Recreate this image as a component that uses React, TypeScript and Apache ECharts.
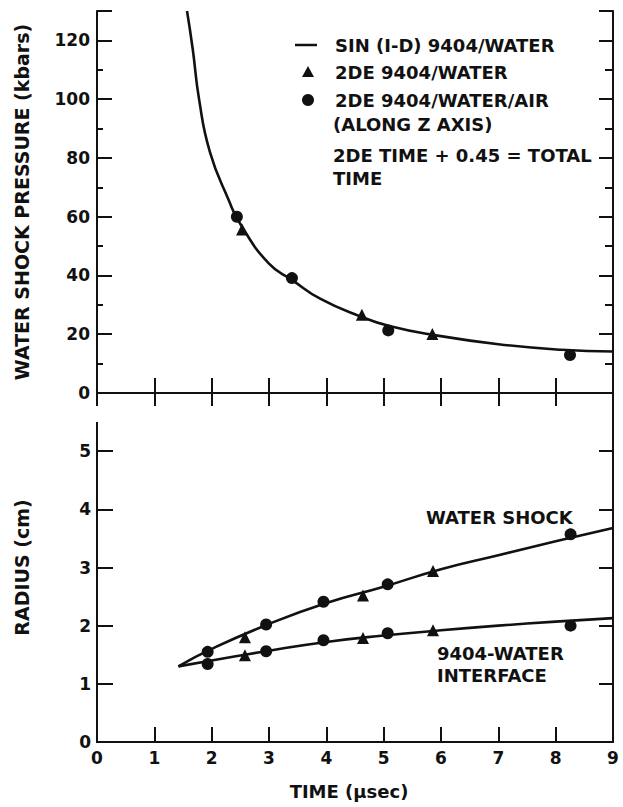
import React, { useEffect, useRef } from "react";
import * as echarts from "echarts";

// ---------- data ----------
const timeTicks = [0, 1, 2, 3, 4, 5, 6, 7, 8, 9];
const pressureTicks = [0, 20, 40, 60, 80, 100, 120];
const radiusTicks = [0, 1, 2, 3, 4, 5];

// SIN (1-D) 9404/water curve: [time, pressure kbar]
const sinPressure: [number, number][] = [
  [1.57, 130], [1.67, 117], [1.78, 100], [1.97, 82], [2.3, 65.5], [2.5, 57.5],
  [3.0, 44], [3.4, 38.5], [3.9, 32], [4.6, 26], [5.1, 22.8], [5.85, 19.8],
  [7.0, 16.6], [8.1, 14.7], [9.0, 14.1],
];
// 2DE 9404/water (triangles)
const tri2dePressure: [number, number][] = [[2.53, 55.6], [4.62, 26.6], [5.85, 20.1]];
// 2DE 9404/water/air along z axis (circles)
const circ2dePressure: [number, number][] = [[2.44, 60], [3.4, 39.1], [5.08, 21.3], [8.25, 12.9]];

// Radius curves: [time, radius cm]
const waterShockLine: [number, number][] = [
  [1.42, 1.3], [2, 1.6], [3, 2.03], [4, 2.39], [5, 2.67], [6, 2.97], [7, 3.21], [8, 3.45], [9, 3.68],
];
const interfaceLine: [number, number][] = [
  [1.42, 1.3], [2, 1.4], [3, 1.57], [4, 1.72], [5, 1.83], [6, 1.92], [7, 2.0], [8, 2.07], [9, 2.13],
];
const waterShockTri: [number, number][] = [[2.58, 1.8], [4.64, 2.52], [5.86, 2.94]];
const waterShockCirc: [number, number][] = [[1.93, 1.55], [2.95, 2.02], [3.95, 2.41], [5.07, 2.71], [8.26, 3.57]];
const interfaceTri: [number, number][] = [[2.58, 1.49], [4.64, 1.79], [5.86, 1.92]];
const interfaceCirc: [number, number][] = [[1.93, 1.34], [2.95, 1.56], [3.95, 1.75], [5.07, 1.87], [8.26, 2.0]];

const legendLabels = [
  "SIN (I-D) 9404/WATER",
  "2DE 9404/WATER",
  "2DE 9404/WATER/AIR",
  "(ALONG Z AXIS)",
  "2DE TIME + 0.45 = TOTAL",
  "TIME",
];

const FONT = "DejaVu Sans";
const INK = "#111";

export default function App() {
  const ref = useRef<HTMLDivElement>(null);

  useEffect(() => {
    if (!ref.current) return;
    const chart = echarts.init(ref.current, undefined, { renderer: "svg" });

    const axLine = { show: true, lineStyle: { color: INK, width: 2 } };
    const noLine = { show: false };
    const tick = (len: number) => ({ show: true, inside: true, length: len, lineStyle: { color: INK, width: 2 } });
    const lbl = { color: INK, fontFamily: FONT, fontWeight: "bold" as const, fontSize: 17 };

    const xBase = { type: "value" as const, min: 0, max: 9, interval: 1, splitLine: { show: false } };

    const txt = (x: number, y: number, text: string, size = 17) => ({
      type: "text",
      x,
      y,
      style: { text, fill: INK, font: `bold ${size}px "${FONT}"`, textVerticalAlign: "middle" },
      z: 100,
    });

    const symStyle = { color: INK, opacity: 1 };
    const curveStyle = { color: INK, width: 2.6 };

    chart.setOption({
      animation: false,
      backgroundColor: "#fff",
      grid: [
        { left: 97, top: 11, width: 516, height: 382 },
        { left: 97, top: 393, width: 516, height: 349 },
      ],
      xAxis: [
        { ...xBase, gridIndex: 0, position: "bottom", axisLine: axLine, axisTick: tick(15), axisLabel: { show: false } },
        { ...xBase, gridIndex: 0, position: "top", axisLine: axLine, axisTick: tick(13), axisLabel: { show: false } },
        {
          ...xBase, gridIndex: 1, position: "bottom", axisLine: axLine, axisTick: tick(15),
          axisLabel: { ...lbl, margin: 7, formatter: (v: number) => (timeTicks.includes(v) ? String(v) : "") },
          name: "TIME (\u03bcsec)", nameLocation: "middle", nameGap: 40,
          nameTextStyle: { color: INK, fontFamily: FONT, fontWeight: "bold", fontSize: 18, padding: [0, 12, 0, 0] },
        },
      ],
      yAxis: [
        {
          type: "value", gridIndex: 0, position: "left", min: 0, max: 130, interval: 20,
          splitLine: { show: false }, axisLine: axLine, axisTick: tick(15),
          axisLabel: { ...lbl, margin: 7, formatter: (v: number) => (pressureTicks.includes(v) ? String(v) : "") },
          name: "WATER SHOCK PRESSURE (kbars)", nameLocation: "middle", nameGap: 66,
          nameTextStyle: { color: INK, fontFamily: FONT, fontWeight: "bold", fontSize: 19 },
        },
        {
          type: "value", gridIndex: 0, position: "left", min: 0, max: 130, interval: 10,
          splitLine: { show: false }, axisLine: noLine, axisTick: tick(6), axisLabel: { show: false },
        },
        {
          type: "value", gridIndex: 0, position: "right", min: 0, max: 130, interval: 20,
          splitLine: { show: false }, axisLine: axLine, axisTick: tick(14), axisLabel: { show: false },
        },
        {
          type: "value", gridIndex: 0, position: "right", min: 0, max: 130, interval: 10,
          splitLine: { show: false }, axisLine: noLine, axisTick: tick(8), axisLabel: { show: false },
        },
        {
          type: "value", gridIndex: 1, position: "left", min: 0, max: 6, interval: 1,
          splitLine: { show: false }, axisLine: noLine, axisTick: tick(16),
          axisLabel: { ...lbl, margin: 6, formatter: (v: number) => (radiusTicks.includes(v) ? String(v) : "") },
          name: "RADIUS (cm)", nameLocation: "middle", nameGap: 66,
          nameTextStyle: { color: INK, fontFamily: FONT, fontWeight: "bold", fontSize: 19 },
        },
        {
          type: "value", gridIndex: 1, position: "right", min: 0, max: 6, interval: 1,
          splitLine: { show: false }, axisLine: axLine, axisTick: tick(14), axisLabel: { show: false },
        },
      ],
      series: [
        {
          name: legendLabels[0], type: "line", xAxisIndex: 0, yAxisIndex: 0, data: sinPressure,
          smooth: 0.5, showSymbol: false, lineStyle: curveStyle,
        },
        {
          name: legendLabels[1], type: "scatter", xAxisIndex: 0, yAxisIndex: 0, data: tri2dePressure,
          symbol: "triangle", symbolSize: 12, itemStyle: symStyle,
        },
        {
          name: legendLabels[2], type: "scatter", xAxisIndex: 0, yAxisIndex: 0, data: circ2dePressure,
          symbol: "circle", symbolSize: 12, itemStyle: symStyle,
        },
        {
          name: "WATER SHOCK", type: "line", xAxisIndex: 2, yAxisIndex: 4, data: waterShockLine,
          smooth: 0.5, showSymbol: false, lineStyle: curveStyle,
        },
        {
          name: "9404-WATER INTERFACE", type: "line", xAxisIndex: 2, yAxisIndex: 4, data: interfaceLine,
          smooth: 0.5, showSymbol: false, lineStyle: curveStyle,
        },
        { type: "scatter", xAxisIndex: 2, yAxisIndex: 4, data: waterShockTri, symbol: "triangle", symbolSize: 12, itemStyle: symStyle },
        { type: "scatter", xAxisIndex: 2, yAxisIndex: 4, data: waterShockCirc, symbol: "circle", symbolSize: 12, itemStyle: symStyle },
        { type: "scatter", xAxisIndex: 2, yAxisIndex: 4, data: interfaceTri, symbol: "triangle", symbolSize: 12, itemStyle: symStyle },
        { type: "scatter", xAxisIndex: 2, yAxisIndex: 4, data: interfaceCirc, symbol: "circle", symbolSize: 12, itemStyle: symStyle },
      ],
      graphic: [
        // left frame of the lower panel stops short of its top, as in the original
        { type: "line", shape: { x1: 97, y1: 422, x2: 97, y2: 743 }, style: { stroke: INK, lineWidth: 2 }, z: 100 },
        { type: "line", shape: { x1: 295, y1: 45, x2: 317, y2: 45 }, style: { stroke: INK, lineWidth: 2.5 }, z: 100 },
        { type: "polygon", shape: { points: [[308, 66], [302, 77], [314, 77]] }, style: { fill: INK }, z: 100 },
        { type: "circle", shape: { cx: 308, cy: 100, r: 6 }, style: { fill: INK }, z: 100 },
        txt(335, 45, legendLabels[0], 18),
        txt(335, 72, legendLabels[1], 18),
        txt(335, 100, legendLabels[2], 18),
        txt(333, 124, legendLabels[3], 18),
        txt(333, 155, legendLabels[4], 18),
        txt(333, 178, legendLabels[5], 18),
        txt(426, 517, "WATER SHOCK", 18),
        txt(437, 653, "9404-WATER", 18),
        txt(437, 675, "INTERFACE", 18),
      ],
    });

    return () => chart.dispose();
  }, []);

  return (
    <div
      ref={ref}
      style={{ position: "absolute", left: 0, top: 0, width: 623, height: 807, background: "#fff" }}
    />
  );
}
